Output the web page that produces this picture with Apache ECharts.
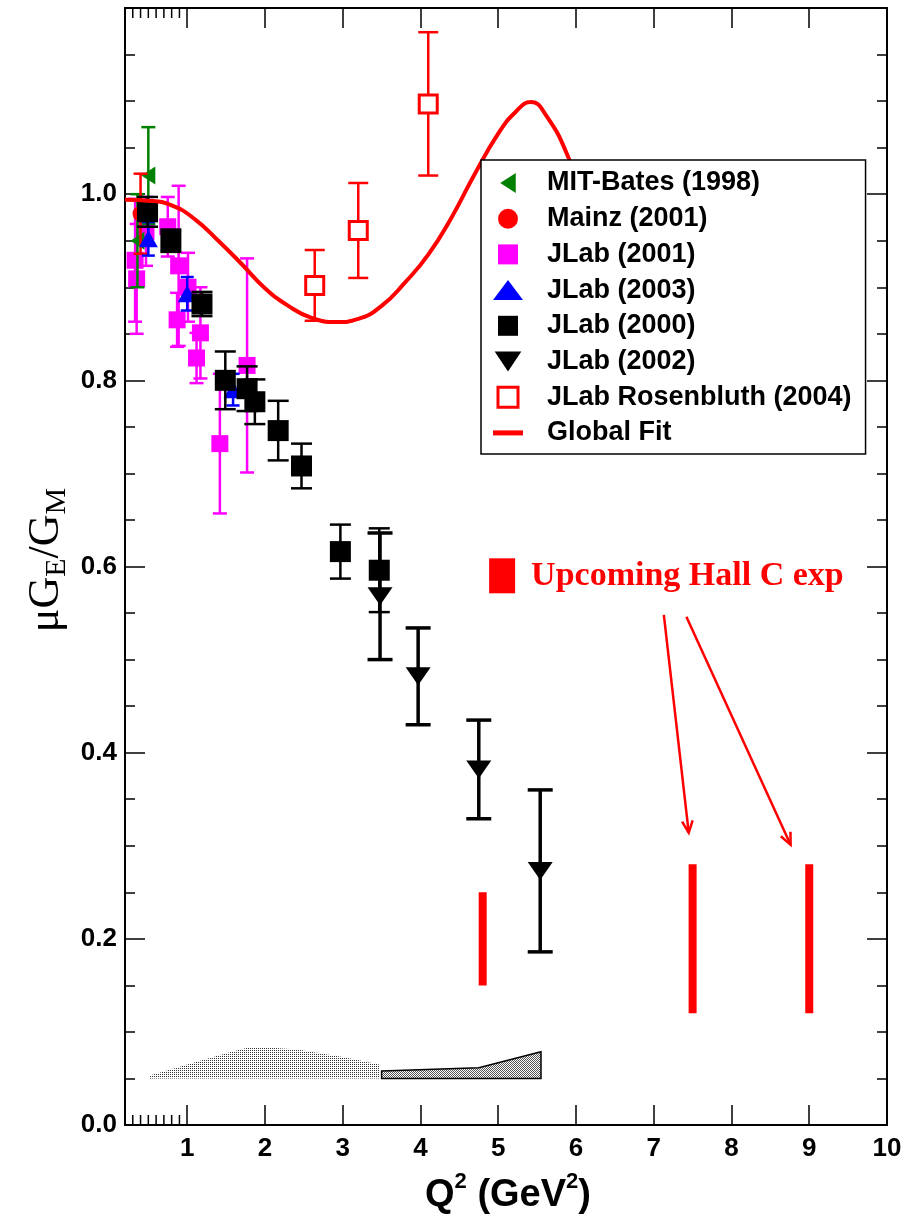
<!DOCTYPE html>
<html>
<head>
<meta charset="utf-8">
<title>Proton form factor ratio</title>
<script src="https://cdn.jsdelivr.net/npm/echarts@6/dist/echarts.min.js"></script>
<style>
html, body { margin: 0; padding: 0; background: #fff; }
#chart { width: 915px; height: 1219px; }
</style>
</head>
<body>
<div id="chart"></div>
<script>
// values, each point is [Q2, ratio, error]
var mitBates = [[0.36, 0.950, 0.050], [0.50, 1.020, 0.052]];
var mainz = [[0.40, 0.979, 0.043]];
var jlab2001 = [
  [0.33, 0.929, 0.066], [0.35, 0.909, 0.059], [0.47, 0.960, 0.037],
  [0.75, 0.965, 0.032], [0.87, 0.865, 0.029], [0.89, 0.923, 0.086],
  [1.01, 0.900, 0.037], [1.12, 0.824, 0.027], [1.17, 0.851, 0.049],
  [1.42, 0.732, 0.075], [1.77, 0.816, 0.115]
];
var jlab2003 = [[0.50, 0.952, 0.018], [1.00, 0.893, 0.018], [1.59, 0.790, 0.017]];
var jlab2000 = [
  [0.49, 0.981, 0.016], [0.79, 0.950, 0.012], [1.19, 0.882, 0.013],
  [1.49, 0.800, 0.031], [1.77, 0.791, 0.024], [1.87, 0.777, 0.024],
  [2.17, 0.746, 0.032], [2.47, 0.708, 0.024], [2.97, 0.616, 0.029],
  [3.47, 0.596, 0.045]
];
var jlab2002 = [[3.48, 0.568, 0.068], [3.97, 0.482, 0.052], [4.75, 0.382, 0.053], [5.54, 0.273, 0.087]];
var rosenbluth = [[2.64, 0.902, 0.038], [3.20, 0.961, 0.051], [4.10, 1.097, 0.077]];

// global fit curve
var fitQ2 =    [0.2, 0.5, 0.8, 1.1, 1.4, 1.7, 2.0, 2.3, 2.6, 2.92, 3.2, 3.5, 3.8, 4.1, 4.4, 4.7, 5.0, 5.22, 5.42, 5.62, 5.9, 6.2];
var fitRatio = [0.994, 0.993, 0.988, 0.973, 0.950, 0.925, 0.899, 0.880, 0.867, 0.8626, 0.866, 0.880, 0.905, 0.935, 0.975, 1.022, 1.065, 1.088, 1.099, 1.084, 1.040, 0.97];

// upcoming Hall C projections
var hallCQ2 = [4.8, 7.5, 9.0];
var hallCLow = [0.15, 0.12, 0.12];
var hallCHigh = [0.25, 0.28, 0.28];
var upcomingPos = [5.05, 0.59];
var arrows = [[7.13, 0.548, 7.45, 0.314], [7.42, 0.546, 8.76, 0.301]];

// systematic error bands (bottom at sysBase)
var sysBase = 0.05;
var sysQ2A = [0.51, 1.0, 1.5, 1.77, 2.1, 2.41, 3.0, 3.47];
var sysTopA = [0.053, 0.065, 0.077, 0.083, 0.083, 0.081, 0.073, 0.065];
var sysQ2B = [3.50, 4.75, 5.55];
var sysTopB = [0.058, 0.0615, 0.0786];

var xTicks = [1, 2, 3, 4, 5, 6, 7, 8, 9, 10];
var xMinorTicks = [0.3, 0.4, 0.5, 0.6, 0.7, 0.8, 0.9];

var chart = echarts.init(document.getElementById('chart'));

function makeDots(w, h, dots, bg, fg) {
  var c = document.createElement('canvas');
  c.width = w; c.height = h;
  var g = c.getContext('2d');
  g.fillStyle = bg; g.fillRect(0, 0, w, h);
  g.fillStyle = fg;
  dots.forEach(function (d) { g.fillRect(d[0], d[1], 1, 1); });
  return { image: c, repeat: 'repeat' };
}
var lightDots = makeDots(2, 2, [[0, 0]], '#ffffff', '#333333');
var darkDots = makeDots(2, 2, [[0, 0], [1, 1]], '#ffffff', '#555555');

function errorBars(data, color, capW, lw, z) {
  return {
    type: 'custom', data: data, z: z, silent: true,
    encode: { x: 0, y: 1 },
    renderItem: function (params, api) {
      var x = api.value(0), y = api.value(1), e = api.value(2);
      var hi = api.coord([x, y + e]), lo = api.coord([x, y - e]);
      var h = capW / 2;
      var st = { stroke: color, lineWidth: lw };
      return {
        type: 'group', children: [
          { type: 'line', shape: { x1: hi[0], y1: hi[1], x2: lo[0], y2: lo[1] }, style: st },
          { type: 'line', shape: { x1: hi[0] - h, y1: hi[1], x2: hi[0] + h, y2: hi[1] }, style: st },
          { type: 'line', shape: { x1: lo[0] - h, y1: lo[1], x2: lo[0] + h, y2: lo[1] }, style: st }
        ]
      };
    }
  };
}

function band(q2, top, fill, stroke, z) {
  return {
    type: 'custom', z: z, silent: true,
    data: q2.map(function (x, i) { return [x, top[i]]; }),
    renderItem: function (params, api) {
      if (params.dataIndex !== 0) return;
      var pts = [];
      for (var i = 0; i < q2.length; i++) pts.push(api.coord([q2[i], top[i]]));
      for (var j = q2.length - 1; j >= 0; j--) pts.push(api.coord([q2[j], sysBase]));
      return { type: 'polygon', shape: { points: pts }, style: { fill: fill, stroke: stroke, lineWidth: 1.5 } };
    }
  };
}

var leftTri = 'path://M0,9L14,0L14,18Z';
var downTri = 'path://M0,0L24,0L12,18Z';
var square = 'path://M0,0h16v16h-16z';
var fitIcon = 'path://M0,0h30v5h-30z';
var font = 'Liberation Sans';
var axisLine = { onZero: false, lineStyle: { color: '#000', width: 2 } };
var tickStyle = { color: '#000', width: 1.5 };

var option = {
  animation: false,
  backgroundColor: '#fff',
  grid: { left: 125, right: 28, top: 8, bottom: 94, outerBoundsMode: 'none' },
  xAxis: [
    {
      type: 'value', position: 'bottom', min: 0.2, max: 10,
      axisLine: axisLine,
      axisTick: { inside: true, length: 20, customValues: xTicks, lineStyle: tickStyle },
      axisLabel: { customValues: xTicks, margin: 11, fontSize: 26, fontWeight: 'bold', fontFamily: font, color: '#000' },
      splitLine: { show: false }
    },
    {
      type: 'value', position: 'top', min: 0.2, max: 10,
      axisLine: axisLine,
      axisTick: { inside: true, length: 20, customValues: xTicks, lineStyle: tickStyle },
      axisLabel: { show: false },
      splitLine: { show: false }
    }
  ],
  yAxis: [
    {
      type: 'value', position: 'left', min: 0, max: 1.2, interval: 0.2,
      axisLine: axisLine,
      axisTick: { inside: true, length: 20, lineStyle: tickStyle },
      minorTick: { show: true, splitNumber: 4, length: 10, lineStyle: tickStyle },
      axisLabel: {
        showMaxLabel: false, margin: 8, fontSize: 26, fontWeight: 'bold', fontFamily: font, color: '#000',
        formatter: function (v) { return v.toFixed(1); }
      },
      splitLine: { show: false }, minorSplitLine: { show: false }
    },
    {
      type: 'value', position: 'right', min: 0, max: 1.2, interval: 0.2,
      axisLine: axisLine,
      axisTick: { inside: true, length: 20, lineStyle: tickStyle },
      minorTick: { show: true, splitNumber: 4, length: 10, lineStyle: tickStyle },
      axisLabel: { show: false },
      splitLine: { show: false }, minorSplitLine: { show: false }
    }
  ],
  legend: {
    orient: 'vertical', left: 481, top: 160, z: 50,
    backgroundColor: '#fff', borderColor: '#000', borderWidth: 1.5,
    padding: [8, 14, 6, 12],
    itemWidth: 30, itemHeight: 20, itemGap: 5.7,
    selectedMode: false,
    textStyle: { fontSize: 27, fontWeight: 'bold', fontFamily: font, color: '#000', lineHeight: 30, padding: [0, 0, 0, 19] },
    data: [
      { name: 'MIT-Bates (1998)', icon: leftTri },
      { name: 'Mainz (2001)', icon: 'circle' },
      { name: 'JLab (2001)', icon: square },
      { name: 'JLab (2003)', icon: 'triangle' },
      { name: 'JLab (2000)', icon: square },
      { name: 'JLab (2002)', icon: downTri },
      { name: 'JLab Rosenbluth (2004)', icon: square, itemStyle: { color: '#fff', borderColor: '#ff0000', borderWidth: 3 } },
      { name: 'Global Fit', icon: fitIcon, itemStyle: { color: '#ff0000' } }
    ]
  },
  graphic: [
    {
      type: 'text', x: 46, y: 560, rotation: Math.PI / 2, z: 100,
      style: {
        text: '{m|μG}{s|E}{m|/G}{s|M}', align: 'center', verticalAlign: 'middle',
        rich: {
          m: { fontFamily: 'Liberation Serif', fontSize: 44, lineHeight: 52, fill: '#000' },
          s: { fontFamily: 'Liberation Serif', fontSize: 30, lineHeight: 30, verticalAlign: 'bottom', fill: '#000' }
        }
      }
    },
    {
      type: 'text', x: 508, y: 1196, z: 100,
      style: {
        text: '{m|Q}{s|2}{m| (GeV}{s|2}{m|)}', align: 'center', verticalAlign: 'middle',
        rich: {
          m: { fontFamily: font, fontWeight: 'bold', fontSize: 38, lineHeight: 50, fill: '#000' },
          s: { fontFamily: font, fontWeight: 'bold', fontSize: 22, lineHeight: 22, verticalAlign: 'top', fill: '#000' }
        }
      }
    }
  ],
  series: [
    band(sysQ2A, sysTopA, lightDots, null, 1),
    band(sysQ2B, sysTopB, darkDots, '#000', 1),
    {
      // short 0.1 ticks between the left edge and 1
      type: 'custom', silent: true, z: 30,
      data: xMinorTicks.map(function (x) { return [x, 0]; }),
      renderItem: function (params, api) {
        var b = api.coord([api.value(0), 0]), t = api.coord([api.value(0), 1.2]);
        return {
          type: 'group', children: [
            { type: 'line', shape: { x1: b[0], y1: b[1], x2: b[0], y2: b[1] - 10 }, style: { stroke: '#000', lineWidth: 1.5 } },
            { type: 'line', shape: { x1: t[0], y1: t[1], x2: t[0], y2: t[1] + 10 }, style: { stroke: '#000', lineWidth: 1.5 } }
          ]
        };
      }
    },
    errorBars(jlab2001, '#ff00ff', 14, 2.5, 2),
    { type: 'scatter', name: 'JLab (2001)', data: jlab2001, symbol: 'rect', symbolSize: 17, itemStyle: { color: '#ff00ff', opacity: 1 }, z: 3 },
    errorBars(mitBates, '#008000', 14, 2.5, 4),
    { type: 'scatter', name: 'MIT-Bates (1998)', data: mitBates, symbol: leftTri, symbolSize: [14, 18], itemStyle: { color: '#008000', opacity: 1 }, z: 5 },
    errorBars(mainz, '#ff0000', 14, 2.5, 6),
    { type: 'scatter', name: 'Mainz (2001)', data: mainz, symbol: 'circle', symbolSize: 16, itemStyle: { color: '#ff0000', opacity: 1 }, z: 7 },
    errorBars(jlab2003, '#0000ff', 13, 2.5, 8),
    { type: 'scatter', name: 'JLab (2003)', data: jlab2003, symbol: 'triangle', symbolSize: [19, 17], itemStyle: { color: '#0000ff', opacity: 1 }, z: 9 },
    errorBars(jlab2000, '#000000', 21, 2.5, 10),
    { type: 'scatter', name: 'JLab (2000)', data: jlab2000, symbol: 'rect', symbolSize: 21, itemStyle: { color: '#000', opacity: 1 }, z: 11 },
    errorBars(jlab2002, '#000000', 25, 3.5, 12),
    { type: 'scatter', name: 'JLab (2002)', data: jlab2002, symbol: downTri, symbolSize: [25, 18], itemStyle: { color: '#000', opacity: 1 }, z: 13 },
    errorBars(rosenbluth, '#ff0000', 20, 2.5, 14),
    {
      type: 'scatter', name: 'JLab Rosenbluth (2004)', data: rosenbluth, symbol: 'rect', symbolSize: 18,
      itemStyle: { color: '#fff', borderColor: '#ff0000', borderWidth: 3, opacity: 1 }, z: 15
    },
    {
      type: 'line', name: 'Global Fit', smooth: 0.5, symbol: 'none', z: 16,
      data: fitQ2.map(function (x, i) { return [x, fitRatio[i]]; }),
      lineStyle: { color: '#ff0000', width: 4 }, itemStyle: { color: '#ff0000' }
    },
    {
      // Hall C projected error bars
      type: 'custom', silent: true, z: 17,
      data: hallCQ2.map(function (x, i) { return [x, hallCLow[i], hallCHigh[i]]; }),
      renderItem: function (params, api) {
        var lo = api.coord([api.value(0), api.value(1)]), hi = api.coord([api.value(0), api.value(2)]);
        return { type: 'rect', shape: { x: lo[0] - 4, y: hi[1], width: 8, height: lo[1] - hi[1] }, style: { fill: '#ff0000' } };
      }
    },
    {
      type: 'custom', silent: true, z: 17,
      data: arrows,
      renderItem: function (params, api) {
        var a = api.coord([api.value(0), api.value(1)]), b = api.coord([api.value(2), api.value(3)]);
        var ang = Math.atan2(b[1] - a[1], b[0] - a[0]);
        var L = 13, w = 0.42;
        var st = { stroke: '#ff0000', lineWidth: 2.5 };
        return {
          type: 'group', children: [
            { type: 'line', shape: { x1: a[0], y1: a[1], x2: b[0], y2: b[1] }, style: st },
            { type: 'polyline', shape: { points: [
              [b[0] - L * Math.cos(ang - w), b[1] - L * Math.sin(ang - w)], b,
              [b[0] - L * Math.cos(ang + w), b[1] - L * Math.sin(ang + w)]
            ] }, style: { stroke: '#ff0000', lineWidth: 2.5, fill: null } }
          ]
        };
      }
    },
    {
      type: 'scatter', name: 'Upcoming Hall C exp', silent: true, z: 18,
      data: [upcomingPos], symbol: 'rect', symbolSize: [26, 35], itemStyle: { color: '#ff0000', opacity: 1 },
      label: {
        show: true, position: 'right', distance: 16, formatter: 'Upcoming Hall C exp',
        color: '#ff0000', fontFamily: 'Liberation Serif', fontWeight: 'bold', fontSize: 34
      }
    }
  ]
};

chart.setOption(option);
</script>
</body>
</html>
